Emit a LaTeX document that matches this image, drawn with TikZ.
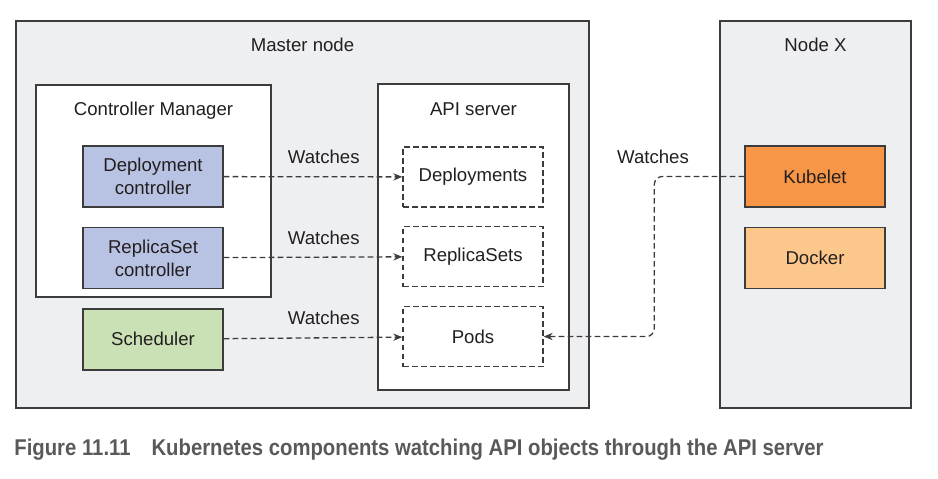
\documentclass[tikz,border=0pt]{standalone}
\usepackage{fontspec}
\setmainfont{Liberation Sans}
\newfontfamily\capfont[FakeStretch=0.89]{Liberation Sans}
\usetikzlibrary{shapes, arrows.meta, positioning}
\definecolor{boxline}{HTML}{3C3C3C}
\definecolor{txt}{HTML}{231F20}
\definecolor{hostfill}{HTML}{EEEFF1}
\definecolor{ctrlblue}{HTML}{B8C3E3}
\definecolor{schedgreen}{HTML}{C9E1B5}
\definecolor{kubeorange}{HTML}{F79646}
\definecolor{dockpeach}{HTML}{FBC78B}
\definecolor{capgray}{HTML}{58595B}
\tikzset{
    host/.style={rectangle, draw=boxline, fill=hostfill, line width=0.7pt},
    group/.style={rectangle, draw=boxline, fill=white, line width=0.7pt},
    comp/.style={rectangle, draw=boxline, line width=0.7pt, minimum width=70pt, minimum height=30.5pt, align=center, text=txt, font=\fontsize{9.3}{11.5}\selectfont},
    apiobj/.style={rectangle, draw=boxline, dashed, dash pattern=on 2.8pt off 1.7pt, line width=0.65pt, minimum width=70pt, minimum height=30pt, text=txt},
    title/.style={text=txt},
    watch/.style={-{Stealth[length=4.5pt, width=3.6pt]}, dash pattern=on 2.8pt off 1.7pt, line width=0.65pt, draw=boxline},
    watchlab/.style={text=txt, inner sep=1pt},
}

\begin{document}
\begin{tikzpicture}[x=0.5pt, y=-0.5pt, font=\fontsize{9.3}{11}\selectfont]

\useasboundingbox (0,0) rectangle (938,478);

% ── Hosts ──
\node[host, minimum width=286.5pt, minimum height=193.5pt] (master) at (302.5,214.5) {};
\node[host, minimum width=95.5pt, minimum height=193.5pt] (nodex) at (815.5,214.5) {};
\node[title] at (302.5,45) {Master node};
\node[title] at (815.5,45) {Node X};

% ── Groups ──
\node[group, minimum width=117.5pt, minimum height=106pt] (cm) at (153.5,191) {};
\node[group, minimum width=95.5pt, minimum height=153pt] (api) at (473.5,237) {};
\node[title] at (153.5,110.5) {Controller Manager};
\node[title] at (473.5,109.5) {API server};

% ── Components ──
\node[comp, fill=ctrlblue] (depctrl) at (153,176.5) {Deployment\\controller};
\node[comp, fill=ctrlblue, below=9.5pt of depctrl] (rsctrl) {ReplicaSet\\controller};
\node[comp, fill=schedgreen, below=9.5pt of rsctrl] (sched) {Scheduler};
\node[comp, fill=kubeorange] (kubelet) at (815,176.5) {Kubelet};
\node[comp, fill=dockpeach, below=9.5pt of kubelet] (docker) {Docker};

% ── API objects ──
\node[apiobj] (deploys) at (473,177) {Deployments};
\node[apiobj] (rsets) at (473,256.5) {ReplicaSets};
\node[apiobj] (pods) at (473,336.5) {Pods};

% ── Watches ──
\draw[watch] (depctrl) -- node[watchlab, above=5pt, pos=0.56] {Watches} (deploys);
\draw[watch] (rsctrl) -- node[watchlab, above=5pt, pos=0.56] {Watches} (rsets);
\draw[watch] (sched) -- node[watchlab, above=5pt, pos=0.56] {Watches} (pods);
\draw[watch, rounded corners=4pt] (kubelet.west) -- ++(-90,0) |- (pods.east);
\node[watchlab, above=5pt] at (653,176.5) {Watches};

% ── Caption ──
\node[anchor=base west, inner sep=0pt, text=capgray, font=\capfont\bfseries\fontsize{11.4}{13}\selectfont] (caption) at (14,455)
    {Figure 11.11\hspace{10.5pt}Kubernetes components watching API objects through the API server};

\end{tikzpicture}
\end{document}
